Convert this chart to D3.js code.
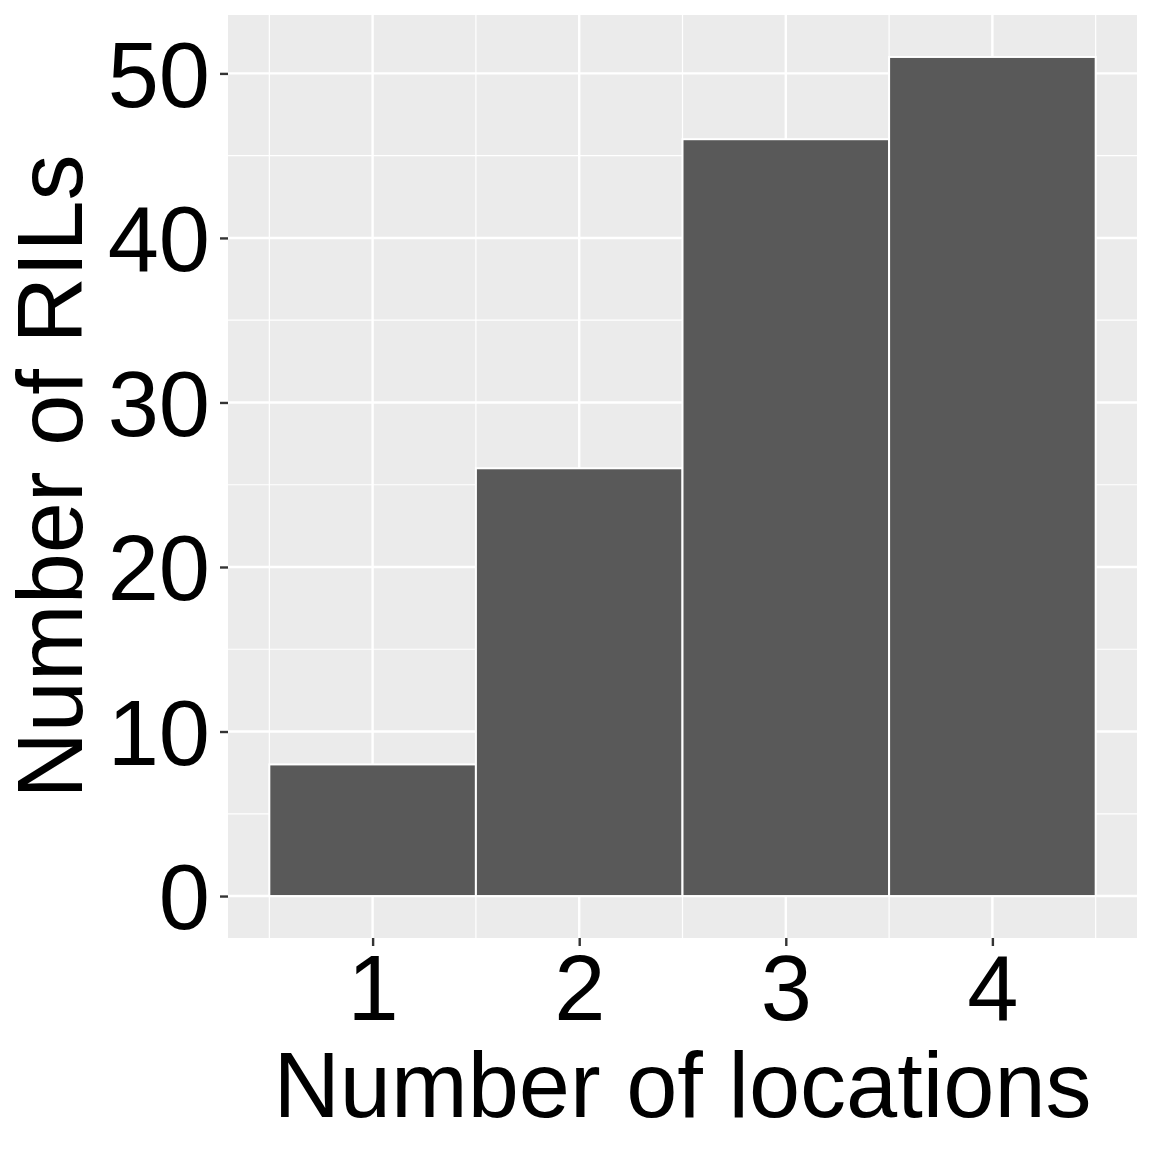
<!DOCTYPE html>
<html>
<head>
<meta charset="utf-8">
<script src="https://cdn.jsdelivr.net/npm/d3@7"></script>
<style>
  html, body { margin: 0; padding: 0; background: #fff; }
  text { font-family: "Liberation Sans", Arial, sans-serif; fill: #000; }
</style>
</head>
<body>
<div id="chart"></div>
<script>
// histogram counts per number of locations
const locations = [1, 2, 3, 4];
const rilCounts = [8, 26, 46, 51];
const yTicks = [0, 10, 20, 30, 40, 50];
const yMinor = [5, 15, 25, 35, 45];
const xMinor = [0.5, 1.5, 2.5, 3.5, 4.5];

const W = 1152, H = 1152;
const panel = { left: 228, right: 1137, top: 15, bottom: 938 };
const tickSize = 92, titleSize = 92;

const svg = d3.select("#chart").append("svg")
  .attr("width", W)
  .attr("height", H);

// ggplot style expansion: 5% on each side
const x = d3.scaleLinear()
  .domain([0.5 - 0.2, 4.5 + 0.2])
  .range([panel.left, panel.right]);
const ymax = d3.max(rilCounts);
const y = d3.scaleLinear()
  .domain([-ymax * 0.05, ymax * 1.05])
  .range([panel.bottom, panel.top]);

svg.append("rect")
  .attr("x", panel.left)
  .attr("y", panel.top)
  .attr("width", panel.right - panel.left)
  .attr("height", panel.bottom - panel.top)
  .attr("fill", "#ebebeb");

const grid = svg.append("g");
grid.selectAll("line.ymin").data(yMinor).enter().append("line")
  .attr("x1", panel.left).attr("x2", panel.right)
  .attr("y1", d => y(d)).attr("y2", d => y(d))
  .attr("stroke", "#fff").attr("stroke-width", 1.2);
grid.selectAll("line.xmin").data(xMinor).enter().append("line")
  .attr("y1", panel.top).attr("y2", panel.bottom)
  .attr("x1", d => x(d)).attr("x2", d => x(d))
  .attr("stroke", "#fff").attr("stroke-width", 1.2);
grid.selectAll("line.ymaj").data(yTicks).enter().append("line")
  .attr("x1", panel.left).attr("x2", panel.right)
  .attr("y1", d => y(d)).attr("y2", d => y(d))
  .attr("stroke", "#fff").attr("stroke-width", 2.4);
grid.selectAll("line.xmaj").data(locations).enter().append("line")
  .attr("y1", panel.top).attr("y2", panel.bottom)
  .attr("x1", d => x(d)).attr("x2", d => x(d))
  .attr("stroke", "#fff").attr("stroke-width", 2.4);

// bars
svg.append("g").selectAll("rect")
  .data(locations)
  .enter().append("rect")
  .attr("x", d => x(d - 0.5))
  .attr("width", d => x(d + 0.5) - x(d - 0.5))
  .attr("y", (d, i) => y(rilCounts[i]))
  .attr("height", (d, i) => y(0) - y(rilCounts[i]))
  .attr("fill", "#595959")
  .attr("stroke", "#fff")
  .attr("stroke-width", 2);

// axes
const yAxis = svg.append("g")
  .attr("transform", "translate(" + panel.left + ",0)")
  .call(d3.axisLeft(y).tickValues(yTicks).tickFormat(d3.format("d")).tickSize(8).tickPadding(10));
const xAxis = svg.append("g")
  .attr("transform", "translate(0," + panel.bottom + ")")
  .call(d3.axisBottom(x).tickValues(locations).tickFormat(d3.format("d")).tickSize(8).tickPadding(8));

[yAxis, xAxis].forEach(function (a) {
  a.select(".domain").remove();
  a.selectAll(".tick line").attr("stroke", "#333").attr("stroke-width", 2.4);
  a.selectAll(".tick text")
    .style("font-size", tickSize + "px")
    .attr("fill", "#000");
});
yAxis.selectAll(".tick text").attr("dy", "0.355em");
xAxis.selectAll(".tick text").attr("dy", "0.72em");

// titles
svg.append("text")
  .attr("x", (panel.left + panel.right) / 2)
  .attr("y", 1117)
  .attr("text-anchor", "middle")
  .style("font-size", titleSize + "px")
  .text("Number of locations");

svg.append("text")
  .attr("transform", "translate(82," + (panel.top + panel.bottom) / 2 + ")rotate(-90)")
  .attr("text-anchor", "middle")
  .style("font-size", titleSize + "px")
  .text("Number of RILs");
</script>
</body>
</html>
